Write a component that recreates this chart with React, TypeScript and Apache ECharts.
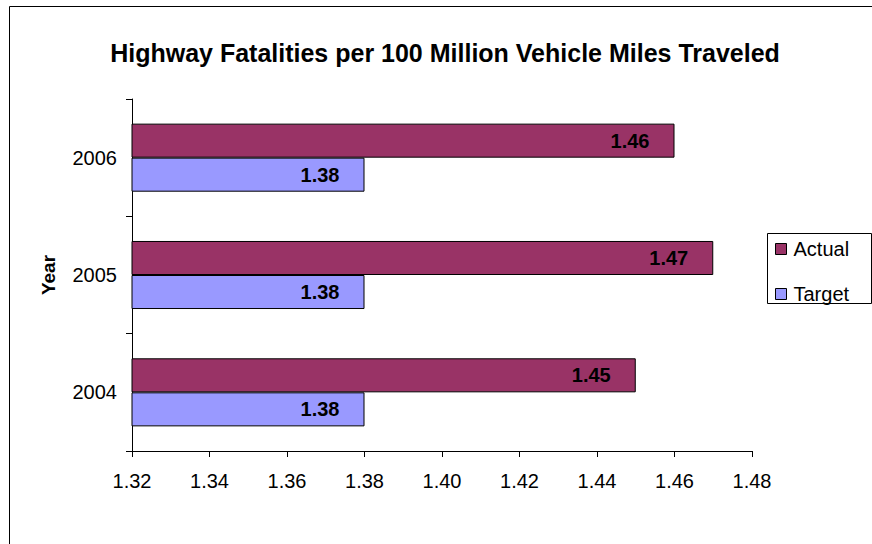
import React, { useEffect, useRef } from "react";
import * as echarts from "echarts";

const years = ["2004", "2005", "2006"];
const actual = [1.45, 1.47, 1.46];
const target = [1.38, 1.38, 1.38];
const xTicks = { min: 1.32, max: 1.48, step: 0.02 };

const FONT = "Arial, 'Liberation Sans', sans-serif";

export default function App() {
  const ref = useRef<HTMLDivElement>(null);

  useEffect(() => {
    document.body.style.margin = "0";
    const chart = echarts.init(ref.current!, undefined, { renderer: "svg" });
    const valueLabel = {
      show: true,
      position: "insideRight" as const,
      distance: 25,
      color: "#000",
      fontFamily: FONT,
      fontWeight: "bold" as const,
      fontSize: 20,
      formatter: (p: any) => Number(p.value).toFixed(2),
    };
    chart.setOption({
      animation: false,
      backgroundColor: "#fff",
      title: {
        text: "Highway Fatalities per 100 Million Vehicle Miles Traveled",
        left: 440,
        top: 35,
        textAlign: "center",
        textStyle: { fontFamily: FONT, fontWeight: "bold", fontSize: 25, color: "#000" },
      },
      graphic: [
        {
          type: "rect",
          shape: { x: 9.5, y: 6.5, width: 900, height: 600 },
          style: { fill: "none", stroke: "#000", lineWidth: 1 },
          silent: true,
        },
        {
          type: "rect",
          shape: { x: 767.5, y: 233.5, width: 104, height: 70 },
          style: { fill: "#fff", stroke: "#000", lineWidth: 1 },
          silent: true,
          z: -1,
        },
      ],
      legend: {
        data: ["Actual", "Target"],
        orient: "vertical",
        left: 775,
        top: 239,
        padding: 0,
        itemWidth: 11,
        itemHeight: 11,
        itemGap: 25,
        icon: "rect",
        itemStyle: { borderColor: "#000", borderWidth: 1 },
        textStyle: { fontFamily: FONT, fontSize: 20, color: "#000", padding: [0, 0, 0, 2] },
      },
      grid: { left: 132, right: 120, top: 99, bottom: 93 },
      xAxis: {
        type: "value",
        min: xTicks.min,
        max: xTicks.max,
        interval: xTicks.step,
        axisLine: { show: true, lineStyle: { color: "#000", width: 1 } },
        axisTick: { show: true, length: 6, lineStyle: { color: "#000" } },
        splitLine: { show: false },
        axisLabel: {
          margin: 20,
          color: "#000",
          fontFamily: FONT,
          fontSize: 20,
          formatter: (v: number) => v.toFixed(2),
        },
      },
      yAxis: {
        type: "category",
        data: years,
        name: "Year",
        nameLocation: "middle",
        nameGap: 74,
        nameRotate: 90,
        nameTextStyle: { fontFamily: FONT, fontWeight: "bold", fontSize: 19, color: "#000" },
        axisLine: { show: true, lineStyle: { color: "#000", width: 1 } },
        axisTick: { show: true, length: 6, lineStyle: { color: "#000" } },
        axisLabel: { margin: 15, color: "#000", fontFamily: FONT, fontSize: 20 },
      },
      series: [
        {
          name: "Actual",
          type: "bar",
          data: actual,
          barGap: "0%",
          barCategoryGap: "42%",
          itemStyle: { color: "#993366", borderColor: "#000", borderWidth: 1 },
          label: valueLabel,
        },
        {
          name: "Target",
          type: "bar",
          data: target,
          barGap: "0%",
          barCategoryGap: "42%",
          itemStyle: { color: "#9999FF", borderColor: "#000", borderWidth: 1 },
          label: valueLabel,
        },
      ],
    });
    return () => chart.dispose();
  }, []);

  return <div ref={ref} style={{ width: 872, height: 544 }} />;
}
